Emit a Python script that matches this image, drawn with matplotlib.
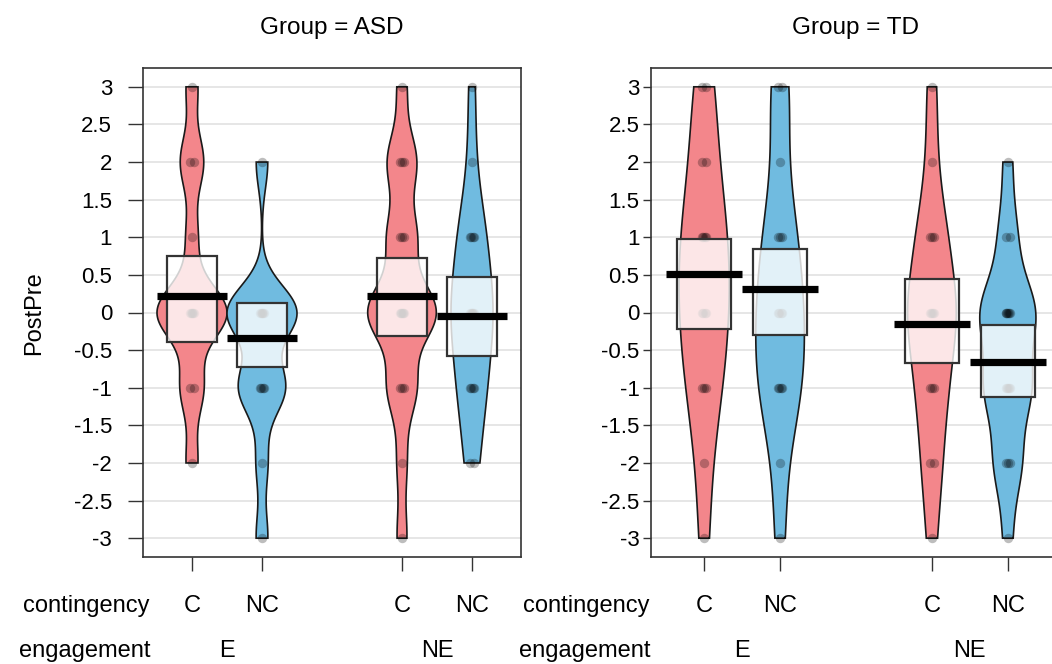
import numpy as np
import matplotlib
matplotlib.use("Agg")
import matplotlib.pyplot as plt
from matplotlib.patches import Rectangle
from matplotlib.transforms import blended_transform_factory

plt.rcParams['font.family'] = ['Liberation Sans', 'DejaVu Sans']

# ---------------- data ----------------
groups = ["ASD", "TD"]
contingency = ["C", "NC", "C", "NC"]
engagement = ["E", "NE"]
positions = [1, 2, 4, 5]
score_values = [-3, -2, -1, 0, 1, 2, 3]

# counts of observations at each score value (order of score_values)
asd_counts = [
    [0, 1, 2, 6, 1, 2, 1],   # E / C
    [1, 1, 4, 6, 0, 1, 0],   # E / NC
    [1, 1, 3, 7, 3, 3, 1],   # NE / C
    [0, 2, 4, 6, 4, 1, 1],   # NE / NC
]
td_counts = [
    [1, 1, 3, 4, 4, 2, 2],   # E / C
    [1, 1, 4, 4, 3, 1, 2],   # E / NC
    [1, 2, 3, 5, 3, 1, 1],   # NE / C
    [1, 3, 5, 6, 2, 1, 0],   # NE / NC
]
asd_means = [0.22, -0.34, 0.22, -0.05]
asd_box_lo = [-0.39, -0.73, -0.31, -0.58]
asd_box_hi = [0.75, 0.13, 0.72, 0.47]
td_means = [0.51, 0.31, -0.15, -0.66]
td_box_lo = [-0.22, -0.30, -0.67, -1.12]
td_box_hi = [0.98, 0.84, 0.44, -0.17]

# bean shape settings (kernel bandwidth, peak half-width)
asd_bw = [0.35, 0.35, 0.38, 0.6]
td_bw = [0.8, 0.7, 0.6, 0.45]
asd_bean_width = [0.5, 0.5, 0.49, 0.3]
td_bean_width = [0.33, 0.32, 0.32, 0.37]

yticks = np.arange(-3, 3.01, 0.5)

# ---------------- style ----------------
col_c = "#F3868B"
col_nc = "#70BBE0"
spine_col = "#333333"
FS = 17

W, H = 1052, 664
fig = plt.figure(figsize=(W / 100, H / 100), dpi=100)

axL = fig.add_axes([143 / W, (H - 557) / H, 378 / W, 489 / H])
axR = fig.add_axes([651 / W, (H - 557) / H, 410 / W, 489 / H])

panels = [
    (axL, "ASD", asd_counts, asd_means, asd_box_lo, asd_box_hi, asd_bw, asd_bean_width, 150, 10.8, 11.5),
    (axR, "TD", td_counts, td_means, td_box_lo, td_box_hi, td_bw, td_bean_width, 650, 5.8, 2.5),
]

for ax, gname, counts, means, lo, hi, bws, bwidths, lab_x, tlen, tpad in panels:
    ax.set_xlim(0.3, 5.7)
    ax.set_ylim(-3.25, 3.25)
    for v in yticks:
        ax.axhline(v, color="#E4E4E4", lw=1.3, zorder=0)

    for i, pos in enumerate(positions):
        col = col_c if contingency[i] == "C" else col_nc
        cnt = np.array(counts[i], dtype=float)
        vals = np.array(score_values, dtype=float)
        present = vals[cnt > 0]
        y = np.linspace(present.min(), present.max(), 400)
        dens = np.zeros_like(y)
        for v, c in zip(vals, cnt):
            dens += c * np.exp(-0.5 * ((y - v) / bws[i]) ** 2)
        hw = dens / dens.max() * bwidths[i]
        xs = np.concatenate([pos - hw, (pos + hw)[::-1]])
        ys = np.concatenate([y, y[::-1]])
        ax.fill(xs, ys, facecolor=col, edgecolor="#1a1a1a", lw=1.2, zorder=2)

        # points
        for v, c in zip(vals, cnt):
            n = int(c)
            if n == 0:
                continue
            offs = np.linspace(-0.03, 0.03, n) if n > 1 else np.array([0.0])
            ax.scatter(pos + offs, np.full(n, v), s=46, color="black",
                       alpha=0.26, linewidths=0, zorder=3)

        # inference box
        ax.add_patch(Rectangle((pos - 0.36, lo[i]), 0.72, hi[i] - lo[i],
                               facecolor=(1, 1, 1, 0.8), edgecolor=spine_col,
                               lw=1.6, zorder=4))
        # mean line
        ax.plot([pos - 0.5, pos + 0.5], [means[i], means[i]], color="black",
                lw=5.2, solid_capstyle="butt", zorder=5)

    for s in ax.spines.values():
        s.set_color(spine_col)
        s.set_linewidth(1.2)
    ax.set_yticks(yticks)
    ax.set_yticklabels([f"{v:g}" for v in yticks], fontsize=16)
    ax.tick_params(axis="y", length=tlen, width=1.0, pad=tpad, color=spine_col)
    ax.set_xticks(positions)
    ax.set_xticklabels([])
    ax.tick_params(axis="x", length=10, width=1.0, color=spine_col)

    ax.text(0.5, 1 + 34 / 489, f"Group = {gname}", transform=ax.transAxes,
            ha="center", va="baseline", fontsize=17.5)

    tr = blended_transform_factory(ax.transData, fig.transFigure)
    for i, pos in enumerate(positions):
        ax.text(pos, (H - 612) / H, contingency[i], transform=tr,
                ha="center", va="baseline", fontsize=FS)
    for j, e in enumerate(engagement):
        ax.text((positions[2 * j] + positions[2 * j + 1]) / 2, (H - 657) / H, e,
                transform=tr, ha="center", va="baseline", fontsize=FS)
    fig.text(lab_x / W, (H - 612) / H, "contingency", ha="right",
             va="baseline", fontsize=FS)
    fig.text(lab_x / W, (H - 657) / H, "engagement", ha="right",
             va="baseline", fontsize=FS)

fig.text(34 / W, (H - 313) / H, "PostPre", rotation=90, ha="center",
         va="center", fontsize=17)

fig.savefig("out.png", dpi=100)
